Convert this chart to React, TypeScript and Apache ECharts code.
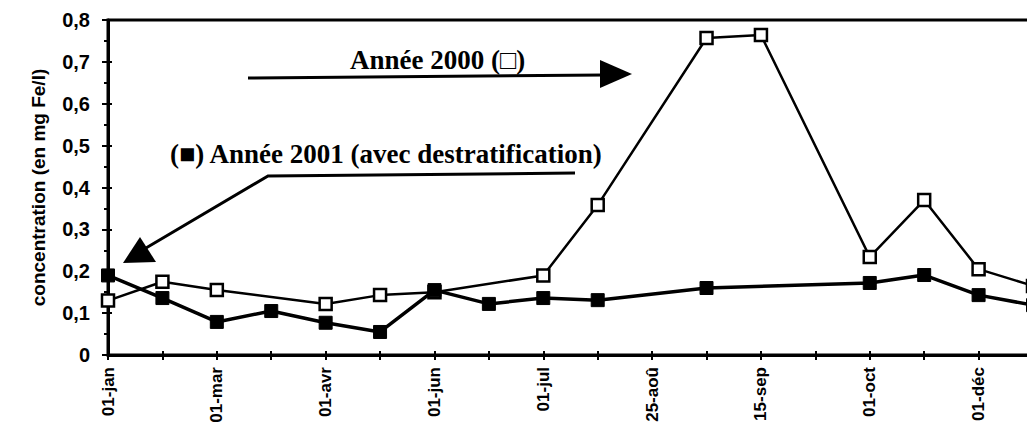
import React, { useEffect, useRef } from "react";
import * as echarts from "echarts";

const tickLabels = ["01-jan", "", "01-mar", "", "01-avr", "", "01-jun", "", "01-jul", "", "25-aoû", "", "15-sep", "", "01-oct", "", "01-déc", ""];
const annee2000 = [0.13, 0.175, 0.155, null, 0.122, 0.143, 0.15, null, 0.19, 0.358, null, 0.757, 0.764, null, 0.234, 0.37, 0.205, 0.165];
const annee2001 = [0.19, 0.136, 0.079, 0.105, 0.077, 0.055, 0.155, 0.122, 0.136, 0.131, null, 0.16, null, null, 0.172, 0.191, 0.143, 0.119];
const yTicks = [0, 0.1, 0.2, 0.3, 0.4, 0.5, 0.6, 0.7, 0.8];

const SANS = "'Liberation Sans', Arial, sans-serif";
const SERIF = "'Liberation Serif', 'Times New Roman', serif";

export default function App() {
  const ref = useRef<HTMLDivElement>(null);
  useEffect(() => {
    if (!ref.current) return;
    const chart = echarts.init(ref.current, undefined, { renderer: "svg" });
    const fmtY = (v: number) => (v === 0 ? "0" : v.toFixed(1).replace(".", ","));
    chart.setOption({
      animation: false,
      backgroundColor: "#ffffff",
      grid: {
        left: 108,
        top: 20,
        width: 925,
        height: 335,
        show: true,
        borderColor: "#000",
        borderWidth: 3,
        outerBoundsMode: "none",
      },
      xAxis: [
        {
          type: "category",
          data: tickLabels,
          boundaryGap: false,
          position: "bottom",
          axisLine: { show: true, lineStyle: { color: "#000", width: 3 } },
          axisTick: { show: true, interval: 0, length: 5, lineStyle: { color: "#000", width: 2 } },
          axisLabel: {
            interval: 0,
            rotate: 90,
            margin: 12,
            color: "#000",
            fontFamily: SANS,
            fontWeight: "bold",
            fontSize: 17,
          },
          splitLine: { show: false },
        },
        {
          type: "category",
          data: tickLabels,
          boundaryGap: false,
          position: "bottom",
          axisLine: { show: false },
          axisTick: { show: true, inside: true, interval: 0, length: 4, lineStyle: { color: "#000", width: 2 } },
          axisLabel: { show: false },
          splitLine: { show: false },
        },
      ],
      yAxis: [
        {
          type: "value",
          min: 0,
          max: 0.8,
          interval: 0.1,
          axisLine: { show: true, lineStyle: { color: "#000", width: 3 } },
          axisTick: { show: true, length: 6, lineStyle: { color: "#000", width: 2 } },
          minorTick: { show: true, splitNumber: 2, length: 4, lineStyle: { color: "#000", width: 2 } },
          axisLabel: {
            margin: 18,
            color: "#000",
            fontFamily: SANS,
            fontWeight: "bold",
            fontSize: 20,
            formatter: (v: number) => fmtY(v),
            customValues: yTicks,
          },
          splitLine: { show: false },
          name: "concentration (en mg Fe/l)",
          nameLocation: "middle",
          nameGap: 60,
          nameRotate: 90,
          nameTextStyle: { color: "#000", fontFamily: SANS, fontWeight: "bold", fontSize: 19 },
        },
        {
          type: "value",
          min: 0,
          max: 0.8,
          interval: 0.1,
          position: "left",
          axisLine: { show: false },
          axisTick: { show: true, inside: true, length: 4, lineStyle: { color: "#000", width: 2 } },
          axisLabel: { show: false },
          splitLine: { show: false },
        },
      ],
      series: [
        {
          name: "Année 2000",
          type: "line",
          data: annee2000,
          connectNulls: true,
          symbol: "rect",
          symbolSize: 12,
          lineStyle: { color: "#000", width: 2.5 },
          itemStyle: { color: "#fff", borderColor: "#000", borderWidth: 2.5 },
          z: 2,
        },
        {
          name: "Année 2001",
          type: "line",
          data: annee2001,
          connectNulls: true,
          symbol: "rect",
          symbolSize: 13,
          lineStyle: { color: "#000", width: 3.5 },
          itemStyle: { color: "#000", borderColor: "#000", borderWidth: 1 },
          z: 3,
        },
      ],
      graphic: [
        {
          type: "text",
          left: 350,
          top: 46,
          style: { text: "Année 2000 (□)", font: `bold 27px ${SERIF}`, fill: "#000" },
        },
        {
          type: "polyline",
          shape: { points: [[248, 78], [604, 75]] },
          style: { stroke: "#000", lineWidth: 3, fill: null },
        },
        {
          type: "polygon",
          shape: { points: [[600, 60], [632, 74], [600, 88]] },
          style: { fill: "#000" },
        },
        {
          type: "text",
          left: 170,
          top: 140,
          style: { text: "(■) Année 2001 (avec destratification)", font: `bold 27px ${SERIF}`, fill: "#000" },
        },
        {
          type: "polyline",
          shape: { points: [[575, 173], [268, 176], [146, 248]] },
          style: { stroke: "#000", lineWidth: 3, fill: null },
        },
        {
          type: "polygon",
          shape: { points: [[140, 237], [156, 262], [123, 263]] },
          style: { fill: "#000" },
        },
      ],
    });
    return () => chart.dispose();
  }, []);
  return <div ref={ref} style={{ position: "fixed", left: 0, top: 0, width: 1027, height: 423 }} />;
}
